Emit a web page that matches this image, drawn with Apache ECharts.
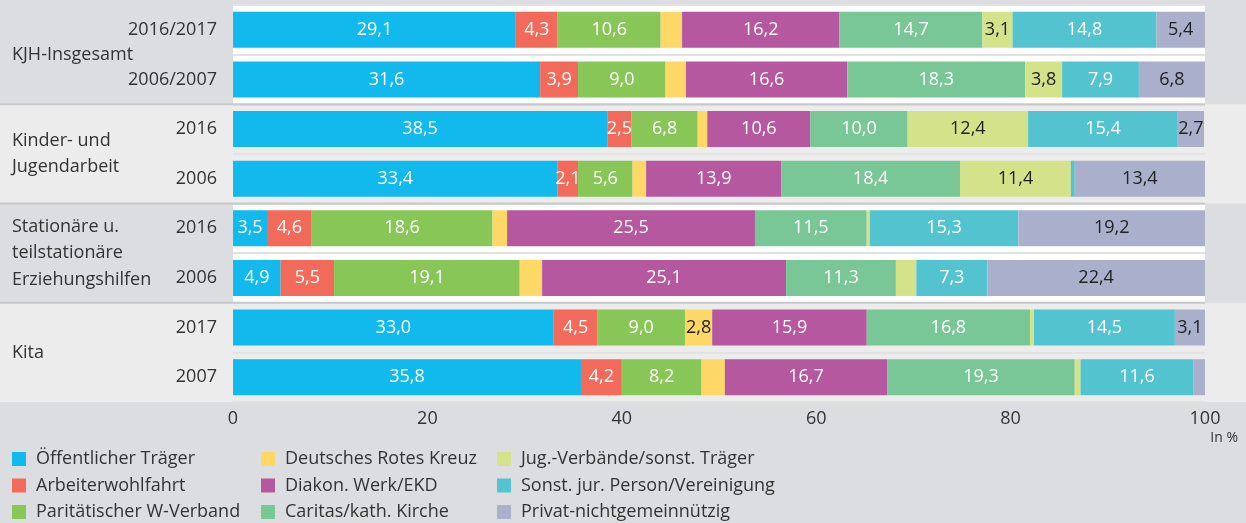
<!DOCTYPE html>
<html>
<head>
<meta charset="utf-8">
<script src="https://cdn.jsdelivr.net/npm/echarts@6.0.0/dist/echarts.min.js"></script>
<style>
  html, body { margin: 0; padding: 0; background: #dcdde0; }
  #chart { width: 1246px; height: 523px; }
</style>
</head>
<body>
<div id="chart"></div>
<script>
// rows from top to bottom
const rowLabels = ["2016/2017", "2006/2007", "2016", "2006", "2016", "2006", "2017", "2007"]
const groupLabels = ["KJH-Insgesamt", "Kinder- und\nJugendarbeit", "Stationäre u.\nteilstationäre\nErziehungshilfen", "Kita"]

const traeger = [
  "Öffentlicher Träger", "Arbeiterwohlfahrt", "Paritätischer W-Verband",
  "Deutsches Rotes Kreuz", "Diakon. Werk/EKD", "Caritas/kath. Kirche",
  "Jug.-Verbände/sonst. Träger", "Sonst. jur. Person/Vereinigung", "Privat-nichtgemeinnützig"
]

const oeffentlich = [29.1, 31.6, 38.5, 33.4, 3.5, 4.9, 33.0, 35.8]
const awo         = [4.3, 3.9, 2.5, 2.1, 4.6, 5.5, 4.5, 4.2]
const paritaet    = [10.6, 9.0, 6.8, 5.6, 18.6, 19.1, 9.0, 8.2]
const drk         = [2.2, 2.1, 1.0, 1.4, 1.5, 2.3, 2.8, 2.4]
const diakonie    = [16.2, 16.6, 10.6, 13.9, 25.5, 25.1, 15.9, 16.7]
const caritas     = [14.7, 18.3, 10.0, 18.4, 11.5, 11.3, 16.8, 19.3]
const jugend      = [3.1, 3.8, 12.4, 11.4, 0.3, 2.1, 0.4, 0.6]
const sonstige    = [14.8, 7.9, 15.4, 0.4, 15.3, 7.3, 14.5, 11.6]
const privat      = [5.4, 6.8, 2.7, 13.4, 19.2, 22.4, 3.1, 1.2]

const seriesValues = [oeffentlich, awo, paritaet, drk, diakonie, caritas, jugend, sonstige, privat]

const COLORS = ["#12b9ec", "#f26a5a", "#88c658", "#fdd867", "#b5589f", "#79c796", "#d4e389", "#53c4cf", "#aab0cc"]
const DARK_LABEL = [3, 6, 8] // DRK, Jug.-Verbände, Privat -> dunkle Schrift
const FONT = '"Open Sans", "Noto Sans", sans-serif'
const TEXT = "#333333"
const LIGHT = "#ececec"
const W = 1246

function fmt(v) {
  return v.toFixed(1).replace(".", ",")
}

const chart = echarts.init(document.getElementById("chart"))

const series = seriesValues.map((values, i) => ({
  name: traeger[i],
  type: "bar",
  stack: "total",
  barWidth: 36,
  data: values,
  itemStyle: { color: COLORS[i] },
  label: {
    show: true,
    position: "inside",
    fontFamily: FONT,
    fontSize: 18,
    color: DARK_LABEL.includes(i) ? "#222222" : "#ffffff",
    formatter: p => {
      const v = p.value
      // kleine Segmente ohne Beschriftung
      if (v < 2 || ((i === 3 || i === 6) && v < 2.5)) return ""
      return fmt(v)
    }
  }
}))

function legendColumn(names, left) {
  return {
    orient: "vertical",
    left: left,
    top: 449,
    height: 120,
    padding: 0,
    itemWidth: 14,
    itemHeight: 14,
    itemGap: 6.5,
    icon: "rect",
    data: names,
    textStyle: { fontFamily: FONT, fontSize: 18, color: TEXT, lineHeight: 20, padding: [0, 0, 0, 5] }
  }
}

const option = {
  animation: false,
  backgroundColor: "#dcdde0",
  grid: { left: 233, right: 41, top: 5, bottom: 121, containLabel: false },
  legend: [
    legendColumn(traeger.slice(0, 3), 12),
    legendColumn(traeger.slice(3, 6), 261),
    legendColumn(traeger.slice(6, 9), 497)
  ],
  xAxis: {
    type: "value",
    min: 0,
    max: 100,
    interval: 20,
    axisLine: { show: false },
    axisTick: { show: false },
    splitLine: { show: false },
    axisLabel: { fontFamily: FONT, fontSize: 18, color: TEXT, margin: 8 }
  },
  yAxis: [
    {
      type: "category",
      inverse: true,
      data: rowLabels,
      axisLine: { show: false },
      axisTick: { show: false },
      axisLabel: { fontFamily: FONT, fontSize: 18, color: TEXT, margin: 16 },
      splitLine: { show: true, interval: 0, lineStyle: { color: "#e2e2e2", width: 2 } },
      splitArea: { show: true, interval: 1, areaStyle: { color: ["#ffffff", LIGHT] } }
    },
    {
      type: "category",
      inverse: true,
      data: groupLabels,
      position: "left",
      axisLine: { show: false },
      axisTick: { show: false },
      axisLabel: { fontFamily: FONT, fontSize: 18, color: TEXT, margin: 221, align: "left", lineHeight: 26.5 }
    }
  ],
  series: series
}

chart.setOption(option)

// Hintergrundbänder und Gruppenlinien aus den Achsen ableiten
function drawBands() {
  const y0 = chart.convertToPixel({ yAxisIndex: 0 }, 0)
  const step = chart.convertToPixel({ yAxisIndex: 0 }, 1) - y0
  const xLeft = chart.convertToPixel({ xAxisIndex: 0 }, 0)
  const xRight = chart.convertToPixel({ xAxisIndex: 0 }, 100)
  const items = []

  groupLabels.forEach((g, gi) => {
    const top = chart.convertToPixel({ yAxisIndex: 0 }, gi * 2) - step / 2
    if (gi % 2 === 1) {
      items.push({ type: "rect", z: -1, shape: { x: 0, y: top, width: xLeft, height: step * 2 }, style: { fill: LIGHT } })
      items.push({ type: "rect", z: -1, shape: { x: xRight, y: top, width: W - xRight, height: step * 2 }, style: { fill: LIGHT } })
    }
    if (gi > 0) {
      items.push({ type: "line", z: 10, shape: { x1: 0, y1: top, x2: xRight, y2: top }, style: { stroke: "#c8c8ca", lineWidth: 2 } })
    }
  })

  items.push({
    type: "text", z: 10,
    style: { x: 1238, y: 438, text: "In %", textAlign: "right", textVerticalAlign: "middle", fontFamily: FONT, fontSize: 14, fill: TEXT }
  })

  chart.setOption({ graphic: items })
}

drawBands()
</script>
</body>
</html>
